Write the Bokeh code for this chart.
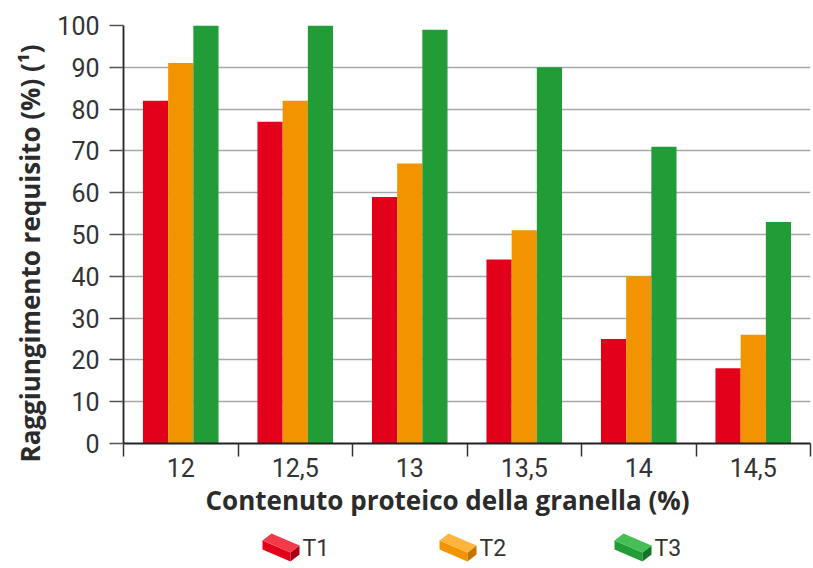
from bokeh.plotting import figure
from bokeh.layouts import column
from bokeh.models import Range1d, FixedTicker, Title
from bokeh.core.properties import value
from bokeh.embed import file_html
from bokeh.resources import INLINE
import numpy as np

# Protein content classes and share of lots reaching the requirement (%)
categories = ["12", "12,5", "13", "13,5", "14", "14,5"]
t1 = [82, 77, 59, 44, 25, 18]
t2 = [91, 82, 67, 51, 40, 26]
t3 = [100, 100, 99, 90, 71, 53]
series_names = ["T1", "T2", "T3"]
y_ticks = [0, 10, 20, 30, 40, 50, 60, 70, 80, 90, 100]

colors = ["#e2001a", "#f29400", "#229c36"]
top_colors = ["#f23a48", "#ffb53d", "#45bf55"]
side_colors = ["#a50013", "#c47200", "#157427"]

TICK_FONT = "Roboto"
TITLE_FONT = "Open Sans"

p = figure(width=813, height=520, output_backend="svg", toolbar_location=None,
           x_range=Range1d(0, len(categories)), y_range=Range1d(0, 100),
           min_border_left=123, min_border_right=3, min_border_top=25,
           min_border_bottom=77)
p.outline_line_color = None
p.background_fill_color = "white"
p.border_fill_color = "white"
p.frame_align = False

centers = np.arange(len(categories)) + 0.5
bw = 0.22
for vals, off, col in zip([t1, t2, t3], [-bw, 0.0, bw], colors):
    p.vbar(x=centers + off, top=vals, width=bw, bottom=0,
           fill_color=col, line_color=None)

# x axis: labels at class centres, separator ticks between classes
xa = p.xaxis[0]
xa.ticker = FixedTicker(ticks=list(centers),
                        minor_ticks=list(range(len(categories) + 1)))
xa.major_label_overrides = {float(c): lab for c, lab in zip(centers, categories)}
xa.major_tick_out = 0
xa.major_tick_in = 0
xa.minor_tick_out = 13
xa.minor_tick_in = 0
xa.minor_tick_line_color = "#333333"
xa.minor_tick_line_width = 1.5
xa.axis_line_color = "#222222"
xa.axis_line_width = 1.8
xa.major_label_text_font = TICK_FONT
xa.major_label_text_font_size = "25px"
xa.major_label_text_color = "#333333"
xa.major_label_standoff = 1

ya = p.yaxis[0]
ya.ticker = FixedTicker(ticks=y_ticks, minor_ticks=[])
ya.major_tick_out = 14
ya.major_tick_in = 0
ya.major_tick_line_color = "#555555"
ya.major_tick_line_width = 1.5
ya.axis_line_color = "#222222"
ya.axis_line_width = 1.8
ya.major_label_text_font = TICK_FONT
ya.major_label_text_font_size = "25px"
ya.major_label_text_color = "#333333"
ya.major_label_standoff = 10

# axis titles as side titles so they can be offset along the frame
x_title = Title(text="Contenuto proteico della granella (%)", align="left",
                offset=82, standoff=0, text_font=TITLE_FONT,
                text_font_style="bold", text_font_size="26px",
                text_color="#2b2b2b")
p.add_layout(x_title, "below")
y_title = Title(text="Raggiungimento requisito (%) (¹)", align="left",
                offset=-19, standoff=13, text_font=TITLE_FONT,
                text_font_style="bold", text_font_size="26px",
                text_color="#2b2b2b")
p.add_layout(y_title, "left")

p.xgrid.visible = False
p.ygrid.ticker = FixedTicker(ticks=y_ticks)
p.ygrid.grid_line_color = "#a8a8a8"
p.ygrid.grid_line_width = 1.6

# legend row with small brick icons (pixel coordinates)
leg = figure(width=813, height=48, output_backend="svg", toolbar_location=None,
             x_range=Range1d(0, 813), y_range=Range1d(48, 0),
             min_border=0)
leg.frame_align = False
leg.outline_line_color = None
leg.axis.visible = False
leg.grid.visible = False

icon_x = [260, 437, 612]
for x0, name, c, ct, cs in zip(icon_x, series_names, colors, top_colors, side_colors):
    # brick corners: top face, long front face, short end face
    A = (x0 + 2, 20); B = (x0 + 11, 13); C = (x0 + 39, 25); D = (x0 + 30, 32)
    h = 9
    A2 = (A[0], A[1] + h); C2 = (C[0], C[1] + h); D2 = (D[0], D[1] + h)
    leg.patch([A[0], D[0], D2[0], A2[0]], [A[1], D[1], D2[1], A2[1]],
              fill_color=c, line_color=None)
    leg.patch([D[0], C[0], C2[0], D2[0]], [D[1], C[1], C2[1], D2[1]],
              fill_color=cs, line_color=None)
    leg.patch([A[0], B[0], C[0], D[0]], [A[1], B[1], C[1], D[1]],
              fill_color=ct, line_color=None)
    leg.text(x=[x0 + 42], y=[28], text=[name], text_font=value(TICK_FONT),
             text_font_size="23px", text_color="#333333",
             text_baseline="middle", text_align="left")

layout = column(p, leg, spacing=0)
open("out.html", "w").write(file_html(layout, INLINE))
